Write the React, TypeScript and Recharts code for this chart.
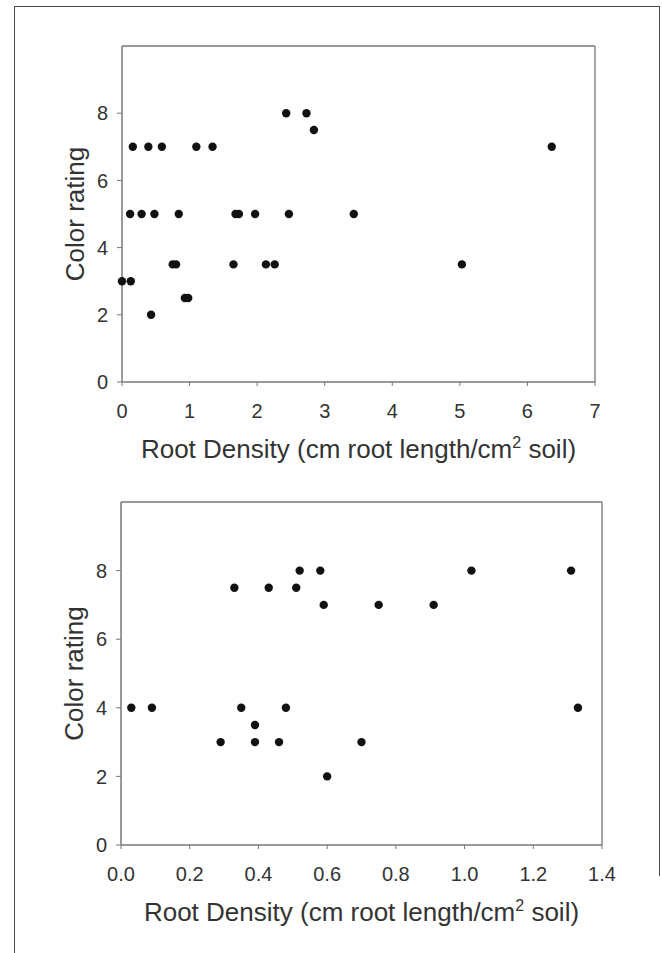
import React from "react";
import {
  ScatterChart,
  Scatter,
  XAxis,
  YAxis,
  ReferenceLine,
  Label,
} from "recharts";

// 위 그래프 — root density 0~7
const topDensity = [
  0, 0.13, 0.16, 0.12, 0.29, 0.39, 0.48, 0.59, 0.43, 0.75, 0.8, 0.84, 0.93, 0.98,
  1.1, 1.34, 1.65, 1.68, 1.73, 1.97, 2.13, 2.26, 2.43, 2.47, 2.73, 2.84, 3.43, 5.03,
  6.36,
];
const topRating = [
  3, 3, 7, 5, 5, 7, 5, 7, 2, 3.5, 3.5, 5, 2.5, 2.5, 7, 7, 3.5, 5, 5, 5, 3.5, 3.5, 8,
  5, 8, 7.5, 5, 3.5, 7,
];
const topXTicks = [0, 1, 2, 3, 4, 5, 6, 7];

// 아래 그래프 — root density 0~1.4
const bottomDensity = [
  0.03, 0.09, 0.29, 0.33, 0.35, 0.39, 0.39, 0.43, 0.46, 0.48, 0.51, 0.52, 0.58, 0.59,
  0.6, 0.7, 0.75, 0.91, 1.02, 1.31, 1.33,
];
const bottomRating = [
  4, 4, 3, 7.5, 4, 3.5, 3, 7.5, 3, 4, 7.5, 8, 8, 7, 2, 3, 7, 7, 8, 8, 4,
];
const bottomXTicks = [0, 0.2, 0.4, 0.6, 0.8, 1.0, 1.2, 1.4];

const yTicks = [0, 2, 4, 6, 8];

const TEXT = "#333";
const AXIS = "#777";

const toPoints = (xs: number[], ys: number[]) =>
  xs.map((x, i) => ({ x, y: ys[i] }));

const Dot = (props: any) => (
  <circle cx={props.cx} cy={props.cy} r={4.2} fill="#111" />
);

const XTitle = (props: any) => {
  const vb = props.viewBox;
  const cx = vb.x + vb.width / 2;
  return (
    <text x={cx} y={vb.y + 76} textAnchor="middle" fontSize={26} fill={TEXT}>
      Root Density (cm root length/cm
      <tspan dy={-10} fontSize={16}>2</tspan>
      <tspan dy={10}> soil)</tspan>
    </text>
  );
};

const YTitle = (props: any) => {
  const vb = props.viewBox;
  const x = vb.x + 24;
  const cy = vb.y + vb.height / 2;
  return (
    <text
      x={x}
      y={cy}
      transform={`rotate(-90, ${x}, ${cy})`}
      textAnchor="middle"
      fontSize={26}
      fill={TEXT}
    >
      Color rating
    </text>
  );
};

interface PanelProps {
  top: number;
  height: number;
  margin: { top: number; right: number; bottom: number; left: number };
  xAxisHeight: number;
  xMax: number;
  xTicks: number[];
  fmt: (v: number) => string;
  data: { x: number; y: number }[];
}

function Panel({ top, height, margin, xAxisHeight, xMax, xTicks, fmt, data }: PanelProps) {
  return (
    <div style={{ position: "absolute", left: 0, top }}>
      <ScatterChart width={662} height={height} margin={margin}>
        <XAxis
          type="number"
          dataKey="x"
          domain={[0, xMax]}
          ticks={xTicks}
          tickFormatter={fmt}
          height={xAxisHeight}
          tick={{ fontSize: 20, fill: TEXT }}
          tickSize={4}
          tickMargin={18}
          axisLine={{ stroke: AXIS, strokeWidth: 1.5 }}
          tickLine={{ stroke: AXIS }}
          allowDecimals
        >
          <Label content={XTitle} />
        </XAxis>
        <YAxis
          type="number"
          dataKey="y"
          domain={[0, 10]}
          ticks={yTicks}
          width={62}
          tick={{ fontSize: 20, fill: TEXT }}
          tickSize={5}
          tickMargin={9}
          axisLine={{ stroke: AXIS, strokeWidth: 1.5 }}
          tickLine={{ stroke: AXIS }}
        >
          <Label content={YTitle} />
        </YAxis>
        <ReferenceLine y={10} stroke="#999" strokeWidth={2} />
        <ReferenceLine x={xMax} stroke="#888" strokeWidth={1.5} />
        <Scatter data={data} shape={Dot} isAnimationActive={false} />
      </ScatterChart>
    </div>
  );
}

export default function App() {
  return (
    <div
      style={{
        position: "absolute",
        left: 0,
        top: 0,
        width: 662,
        height: 953,
        background: "#fff",
        fontFamily: "'Liberation Sans', Arial, sans-serif",
        overflow: "hidden",
      }}
    >
      {/* 바깥 테두리 */}
      <div
        style={{
          position: "absolute",
          left: 14,
          top: 6,
          width: 645,
          height: 960,
          borderLeft: "1.5px solid #4a4a4a",
          borderTop: "1.5px solid #4a4a4a",
        }}
      />
      <div
        style={{
          position: "absolute",
          left: 659,
          top: 6,
          width: 0,
          height: 870,
          borderLeft: "1.5px solid #4a4a4a",
        }}
      />
      <Panel
        top={0}
        height={480}
        margin={{ top: 46, right: 67, bottom: 8, left: 60 }}
        xAxisHeight={90}
        xMax={7}
        xTicks={topXTicks}
        fmt={(v) => `${v}`}
        data={toPoints(topDensity, topRating)}
      />
      <Panel
        top={460}
        height={493}
        margin={{ top: 42, right: 60, bottom: 8, left: 59 }}
        xAxisHeight={100}
        xMax={1.4}
        xTicks={bottomXTicks}
        fmt={(v) => v.toFixed(1)}
        data={toPoints(bottomDensity, bottomRating)}
      />
    </div>
  );
}
